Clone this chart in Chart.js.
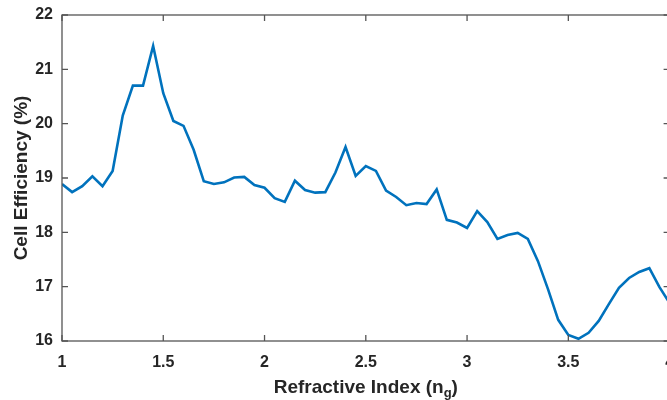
<!DOCTYPE html>
<html>
<head>
<meta charset="utf-8">
<script src="https://cdn.jsdelivr.net/npm/chart.js@4"></script>
<style>
  html, body { margin: 0; padding: 0; background: #fff; overflow: hidden; }
  #wrap { width: 700px; height: 400px; }
</style>
</head>
<body>
<div id="wrap"><canvas id="effChart"></canvas></div>
<script>
// refractive index (x) and cell efficiency (%)
const refractiveIndex = [
  1.00, 1.05, 1.10, 1.15, 1.20, 1.25, 1.30, 1.35, 1.40, 1.45,
  1.50, 1.55, 1.60, 1.65, 1.70, 1.75, 1.80, 1.85, 1.90, 1.95,
  2.00, 2.05, 2.10, 2.15, 2.20, 2.25, 2.30, 2.35, 2.40, 2.45,
  2.50, 2.55, 2.60, 2.65, 2.70, 2.75, 2.80, 2.85, 2.90, 2.95,
  3.00, 3.05, 3.10, 3.15, 3.20, 3.25, 3.30, 3.35, 3.40, 3.45,
  3.50, 3.55, 3.60, 3.65, 3.70, 3.75, 3.80, 3.85, 3.90, 3.95, 4.00
];
const cellEfficiency = [
  18.89, 18.74, 18.85, 19.03, 18.85, 19.13, 20.15, 20.70, 20.70, 21.43,
  20.56, 20.05, 19.96, 19.52, 18.94, 18.89, 18.92, 19.01, 19.02, 18.87,
  18.82, 18.63, 18.56, 18.95, 18.78, 18.73, 18.74, 19.10, 19.57, 19.04,
  19.22, 19.13, 18.77, 18.65, 18.50, 18.54, 18.52, 18.79, 18.23, 18.18,
  18.08, 18.39, 18.19, 17.88, 17.95, 17.99, 17.88, 17.47, 16.95, 16.39,
  16.11, 16.04, 16.15, 16.37, 16.68, 16.98, 17.16, 17.27, 17.34, 16.99, 16.70
];
const xTicks = [1, 1.5, 2, 2.5, 3, 3.5, 4];
const yTicks = [16, 17, 18, 19, 20, 21, 22];

const axisColor = '#555555';
const textColor = '#262626';
const fontFamily = '"Liberation Sans", Arial, sans-serif';

// MATLAB style box with inward ticks on all four sides
const boxPlugin = {
  id: 'boxPlugin',
  afterDraw(chart) {
    const ctx = chart.ctx;
    const a = chart.chartArea;
    const xs = chart.scales.x;
    const ys = chart.scales.y;
    const len = 6;
    ctx.save();
    ctx.strokeStyle = axisColor;
    ctx.lineWidth = 1.3;
    ctx.strokeRect(a.left, a.top, a.right - a.left, a.bottom - a.top);
    ctx.beginPath();
    xTicks.forEach(v => {
      const px = xs.getPixelForValue(v);
      ctx.moveTo(px, a.bottom); ctx.lineTo(px, a.bottom - len);
      ctx.moveTo(px, a.top); ctx.lineTo(px, a.top + len);
    });
    yTicks.forEach(v => {
      const py = ys.getPixelForValue(v);
      ctx.moveTo(a.left, py); ctx.lineTo(a.left + len, py);
      ctx.moveTo(a.right, py); ctx.lineTo(a.right - len, py);
    });
    ctx.stroke();

    // x axis title with subscript g
    const mainFont = 'bold 19px ' + fontFamily;
    const subFont = 'bold 13px ' + fontFamily;
    const part1 = 'Refractive Index (n';
    const part2 = 'g';
    const part3 = ')';
    ctx.fillStyle = textColor;
    ctx.textBaseline = 'alphabetic';
    ctx.font = mainFont;
    const w1 = ctx.measureText(part1).width;
    const w3 = ctx.measureText(part3).width;
    ctx.font = subFont;
    const w2 = ctx.measureText(part2).width;
    const total = w1 + w2 + w3;
    const x0 = (a.left + a.right) / 2 - total / 2;
    const base = 393;
    ctx.font = mainFont;
    ctx.textAlign = 'left';
    ctx.fillText(part1, x0, base);
    ctx.font = subFont;
    ctx.fillText(part2, x0 + w1, base + 4);
    ctx.font = mainFont;
    ctx.fillText(part3, x0 + w1 + w2, base);
    ctx.restore();
  }
};

const ctx = document.getElementById('effChart').getContext('2d');
new Chart(ctx, {
  type: 'line',
  data: {
    datasets: [{
      label: 'Cell Efficiency',
      data: refractiveIndex.map((x, i) => ({ x: x, y: cellEfficiency[i] })),
      borderColor: '#0072BD',
      borderWidth: 2.6,
      pointRadius: 0,
      tension: 0,
      fill: false
    }]
  },
  options: {
    responsive: true,
    maintainAspectRatio: false,
    animation: false,
    layout: { padding: { top: 15, right: 30.4, left: 0, bottom: 0 } },
    plugins: {
      legend: { display: false },
      tooltip: { enabled: false }
    },
    scales: {
      x: {
        type: 'linear',
        min: 1,
        max: 4,
        afterFit: s => { s.height = 59; },
        afterBuildTicks: s => { s.ticks = xTicks.map(v => ({ value: v })); },
        grid: { display: false, drawTicks: true, tickLength: 12 },
        border: { display: false },
        ticks: {
          padding: 0,
          color: textColor,
          maxRotation: 0,
          callback: v => String(v),
          font: { family: fontFamily, size: 16, weight: 'bold' }
        }
      },
      y: {
        min: 16,
        max: 22,
        afterFit: s => { s.width = 62; },
        afterBuildTicks: s => { s.ticks = yTicks.map(v => ({ value: v })); },
        grid: { display: false, drawTicks: true, tickLength: 9 },
        border: { display: false },
        ticks: {
          padding: 0,
          color: textColor,
          callback: v => String(v),
          font: { family: fontFamily, size: 16, weight: 'bold' }
        },
        title: {
          display: true,
          text: 'Cell Efficiency (%)',
          color: textColor,
          padding: { top: 10, bottom: 0 },
          font: { family: fontFamily, size: 19, weight: 'bold' }
        }
      }
    }
  },
  plugins: [boxPlugin]
});
</script>
</body>
</html>
